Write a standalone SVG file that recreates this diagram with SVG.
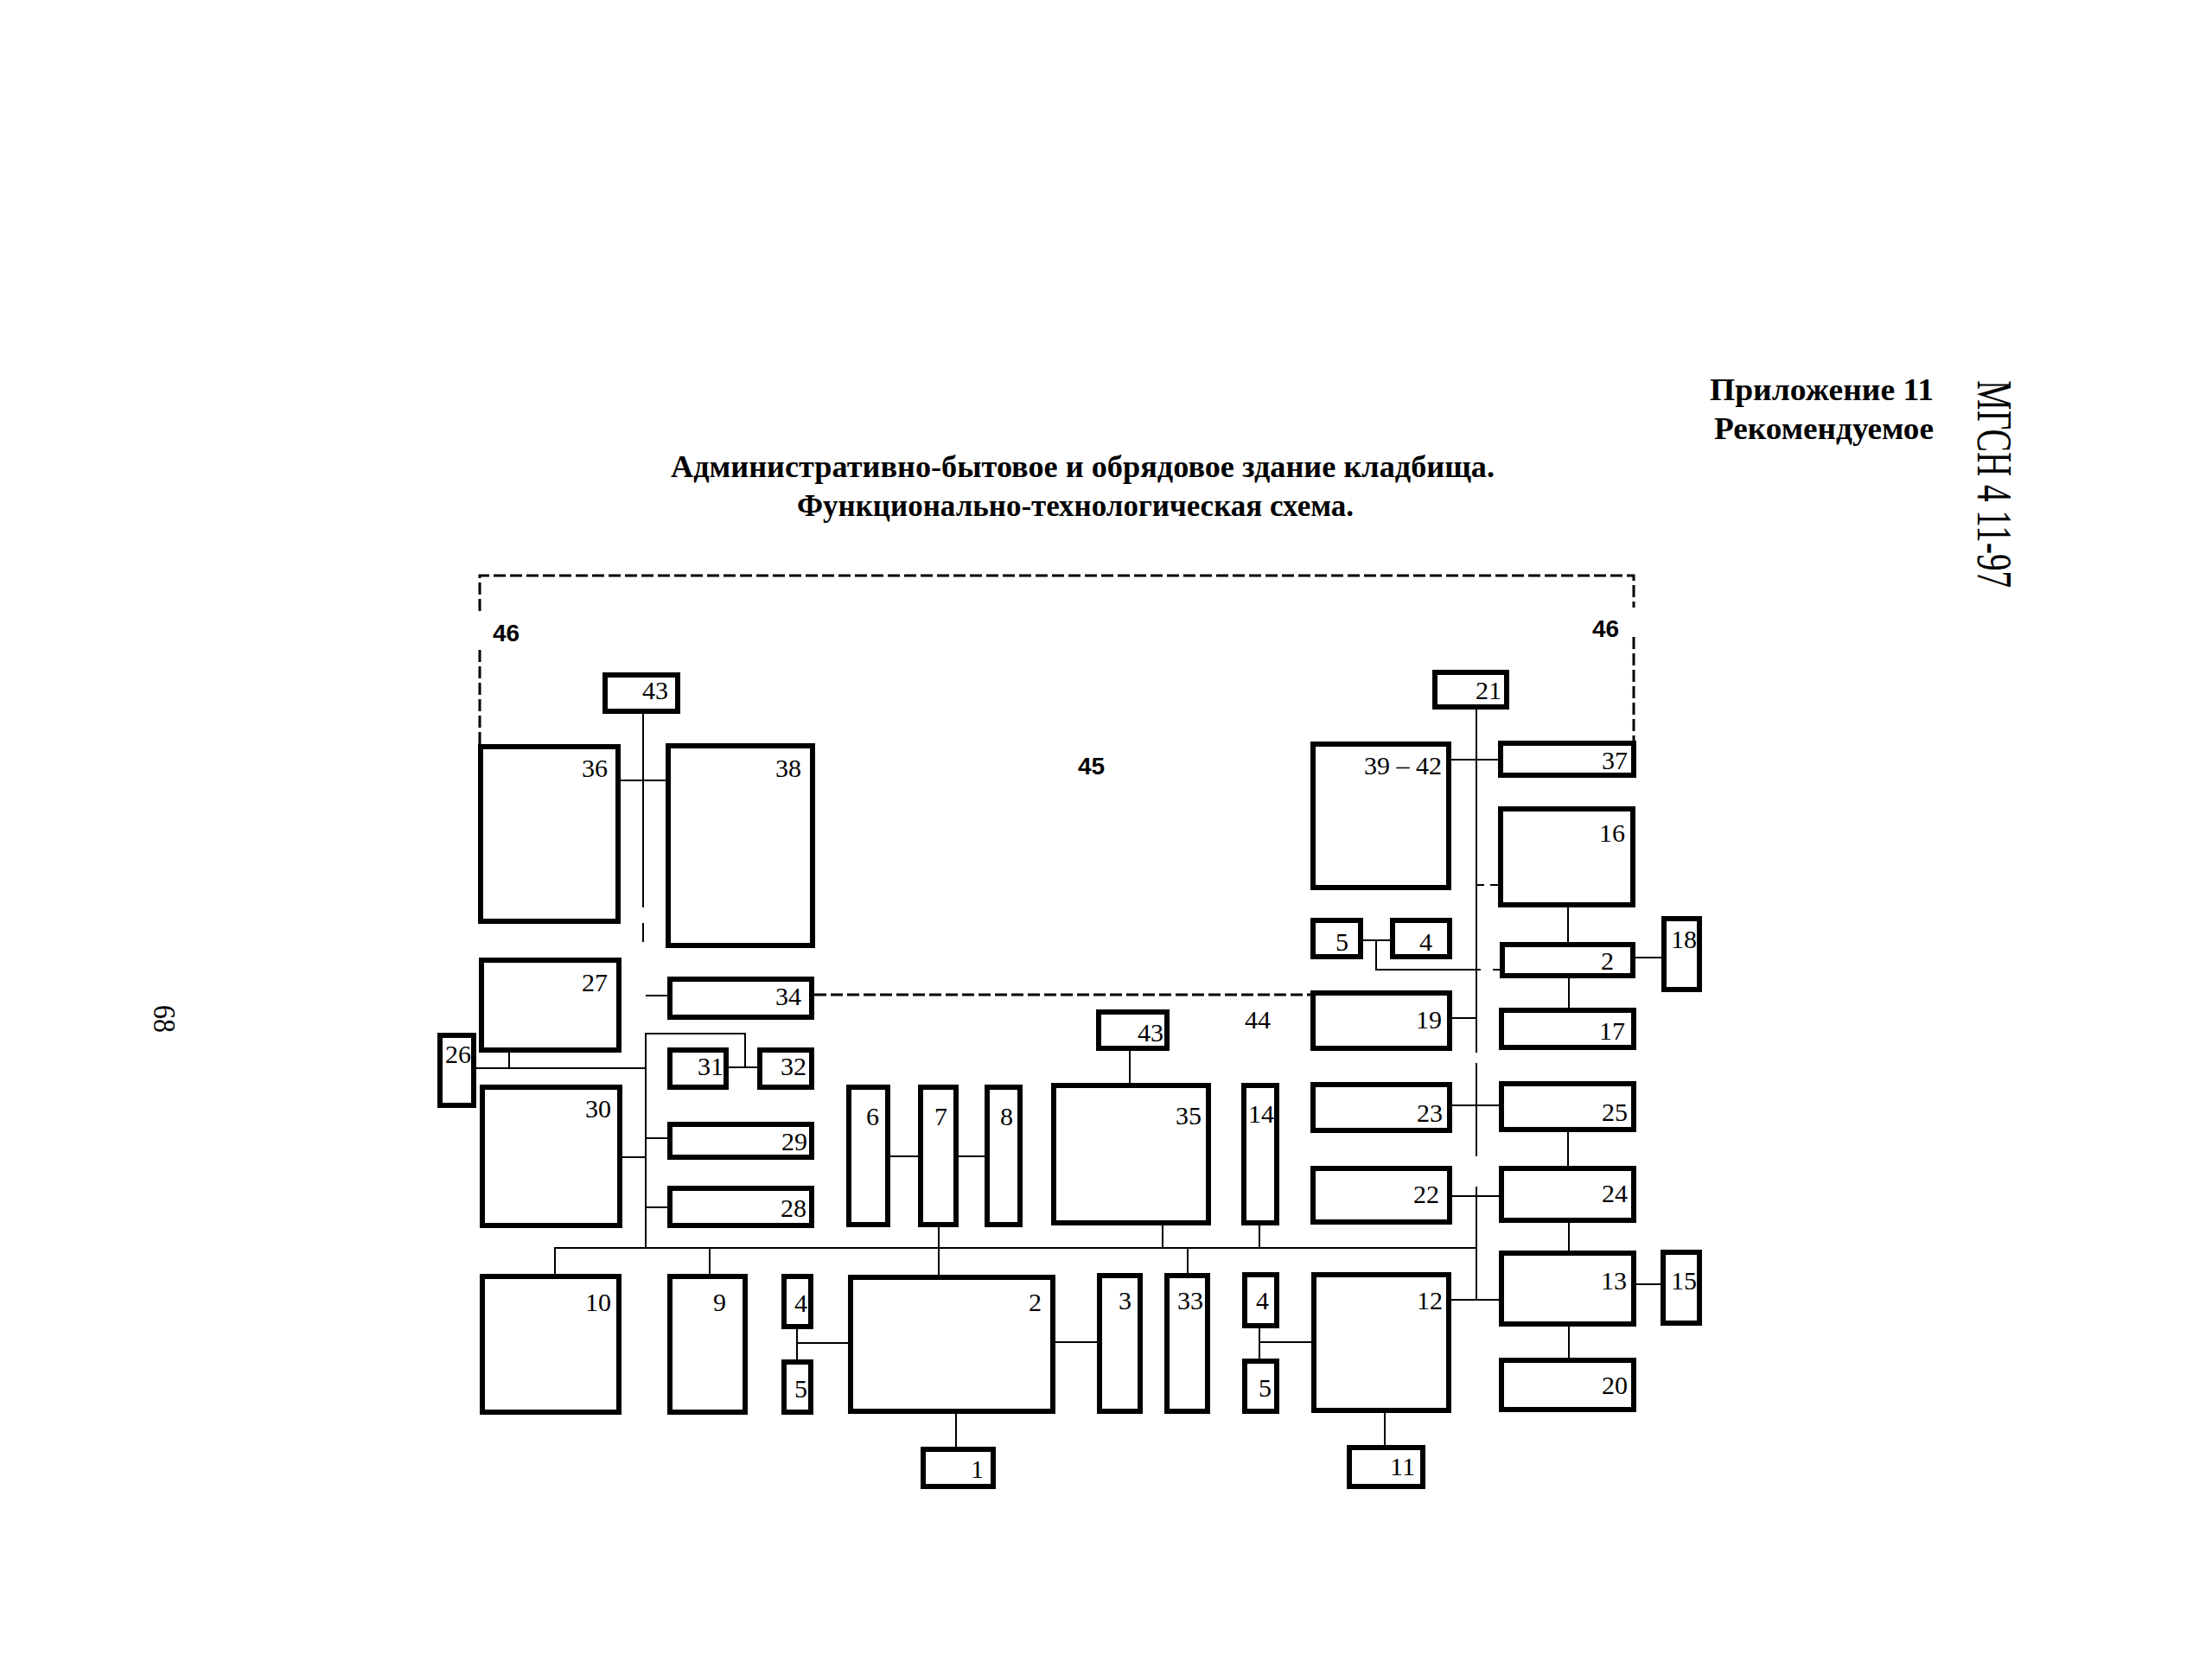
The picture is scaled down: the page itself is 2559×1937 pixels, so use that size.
<svg xmlns="http://www.w3.org/2000/svg" width="2559" height="1937" viewBox="0 0 2559 1937">
<style>
.box{fill:#fff;stroke:#000;stroke-width:6}
.ln{fill:none;stroke:#000;stroke-width:2}
.dash{fill:none;stroke:#000;stroke-width:3;stroke-dasharray:14 5}
.lbl{font-family:"Liberation Serif",serif;font-size:30px;text-anchor:end;fill:#000}
.big{font-family:"Liberation Sans",sans-serif;font-size:28px;font-weight:bold;fill:#000}
.hdr{font-family:"Liberation Serif",serif;font-weight:bold;fill:#000}
</style>
<rect x="0" y="0" width="2559" height="1937" fill="#fff"/>
<g id="header">
<text class="hdr" x="1978" y="463" font-size="36" textLength="259" lengthAdjust="spacingAndGlyphs">Приложение 11</text>
<text class="hdr" x="1983" y="508" font-size="36" textLength="254" lengthAdjust="spacingAndGlyphs">Рекомендуемое</text>
<text font-family="Liberation Serif, serif" font-size="58" transform="translate(2288,440) rotate(90)" textLength="240" lengthAdjust="spacingAndGlyphs">МГСН 4 11-97</text>
<text font-family="Liberation Serif, serif" font-size="36" transform="translate(178,1163) rotate(90)" textLength="32" lengthAdjust="spacingAndGlyphs">68</text>
<text class="hdr" x="776" y="552" font-size="35" textLength="953" lengthAdjust="spacingAndGlyphs">Административно-бытовое и обрядовое здание кладбища.</text>
<text class="hdr" x="922" y="597" font-size="35" textLength="644" lengthAdjust="spacingAndGlyphs">Функционально-технологическая схема.</text>
</g>
<g id="zones">
<path class="dash" d="M555 861 V750 M555 707 V666 H1890 V703 M1890 737 V857"/>
<path class="dash" d="M942 1151 H1516"/>
<text class="big" x="570" y="742">46</text>
<text class="big" x="1842" y="737">46</text>
<text class="big" x="1247" y="896">45</text>
<text class="lbl" x="1470" y="1190">44</text>
</g>
<g id="connectors">
<path class="ln" d="M744 826 V1050 M744 1068 V1090"/>
<path class="ln" d="M718 903 H770"/>
<path class="ln" d="M747 1152 H772"/>
<path class="ln" d="M747 1444 V1196 H862 V1235 M843 1235 H876"/>
<path class="ln" d="M551 1236 H747 M589 1218 V1236"/>
<path class="ln" d="M720 1339 H747 M747 1317 H772 M747 1397 H772"/>
<path class="ln" d="M642 1474 V1444 H1708"/>
<path class="ln" d="M821 1444 V1474"/>
<path class="ln" d="M1086 1420 V1475"/>
<path class="ln" d="M1030 1338 H1062 M1109 1338 H1139"/>
<path class="ln" d="M922 1538 V1573 M922 1554 H981"/>
<path class="ln" d="M1106 1636 V1674"/>
<path class="ln" d="M1221 1553 H1269"/>
<path class="ln" d="M1345 1418 V1444 M1374 1444 V1473 M1457 1418 V1444"/>
<path class="ln" d="M1307 1216 V1253"/>
<path class="ln" d="M1457 1537 V1572 M1457 1553 H1517"/>
<path class="ln" d="M1602 1635 V1672"/>
<path class="ln" d="M1708 821 V1218 M1708 1230 V1338 M1708 1373 V1504"/>
<path class="ln" d="M1679 1504 H1734"/>
<path class="ln" d="M1815 1535 V1571 M1815 1415 V1447 M1814 1310 V1349 M1815 1132 V1166 M1814 1050 V1090"/>
<path class="ln" d="M1893 1486 H1921 M1892 1108 H1922"/>
<path class="ln" d="M1679 879 H1733"/>
<path class="ln" d="M1708 1024 H1733" stroke-dasharray="9 7"/>
<path class="ln" d="M1577 1088 H1608 M1592 1088 V1122 H1713 M1727 1122 H1735"/>
<path class="ln" d="M1680 1178 H1708 M1680 1279 H1734 M1680 1384 H1734"/>
</g>
<g id="n43a"><rect class="box" x="700" y="781" width="84" height="42"/><text class="lbl" x="773" y="809">43</text></g>
<g id="n36"><rect class="box" x="556" y="864" width="159" height="202"/><text class="lbl" x="703" y="899">36</text></g>
<g id="n38"><rect class="box" x="773" y="863" width="167" height="231"/><text class="lbl" x="927" y="899">38</text></g>
<g id="n27"><rect class="box" x="557" y="1111" width="159" height="104"/><text class="lbl" x="703" y="1147">27</text></g>
<g id="n34"><rect class="box" x="775" y="1133" width="164" height="44"/><text class="lbl" x="927" y="1163">34</text></g>
<g id="n26"><rect class="box" x="509" y="1198" width="39" height="81"/><text class="lbl" x="545" y="1230" font-size="28">26</text></g>
<g id="n31"><rect class="box" x="775" y="1215" width="65" height="43"/><text class="lbl" x="837" y="1244">31</text></g>
<g id="n32"><rect class="box" x="879" y="1215" width="60" height="43"/><text class="lbl" x="933" y="1244">32</text></g>
<g id="n30"><rect class="box" x="558" y="1258" width="159" height="160"/><text class="lbl" x="707" y="1293">30</text></g>
<g id="n29"><rect class="box" x="775" y="1301" width="164" height="38"/><text class="lbl" x="934" y="1331">29</text></g>
<g id="n28"><rect class="box" x="775" y="1375" width="164" height="43"/><text class="lbl" x="933" y="1408">28</text></g>
<g id="n10"><rect class="box" x="558" y="1477" width="158" height="157"/><text class="lbl" x="707" y="1517">10</text></g>
<g id="n9"><rect class="box" x="775" y="1477" width="87" height="157"/><text class="lbl" x="840" y="1517">9</text></g>
<g id="n4a"><rect class="box" x="907" y="1477" width="31" height="58"/><text class="lbl" x="934" y="1518">4</text></g>
<g id="n5a"><rect class="box" x="907" y="1576" width="31" height="58"/><text class="lbl" x="934" y="1617">5</text></g>
<g id="n2a"><rect class="box" x="984" y="1478" width="234" height="155"/><text class="lbl" x="1205" y="1517">2</text></g>
<g id="n1"><rect class="box" x="1068" y="1677" width="81" height="43"/><text class="lbl" x="1138" y="1710">1</text></g>
<g id="n6"><rect class="box" x="982" y="1258" width="45" height="159"/><text class="lbl" x="1017" y="1302">6</text></g>
<g id="n7"><rect class="box" x="1065" y="1258" width="41" height="159"/><text class="lbl" x="1096" y="1302">7</text></g>
<g id="n8"><rect class="box" x="1142" y="1258" width="38" height="159"/><text class="lbl" x="1172" y="1302">8</text></g>
<g id="n43b"><rect class="box" x="1271" y="1171" width="79" height="42"/><text class="lbl" x="1346" y="1205">43</text></g>
<g id="n35"><rect class="box" x="1219" y="1256" width="179" height="159"/><text class="lbl" x="1390" y="1301">35</text></g>
<g id="n14"><rect class="box" x="1439" y="1256" width="38" height="159"/><text class="lbl" x="1474" y="1299">14</text></g>
<g id="n3"><rect class="box" x="1272" y="1476" width="47" height="157"/><text class="lbl" x="1309" y="1515">3</text></g>
<g id="n33"><rect class="box" x="1350" y="1476" width="47" height="157"/><text class="lbl" x="1392" y="1515">33</text></g>
<g id="n4b"><rect class="box" x="1440" y="1475" width="37" height="59"/><text class="lbl" x="1468" y="1515">4</text></g>
<g id="n5b"><rect class="box" x="1440" y="1575" width="37" height="58"/><text class="lbl" x="1471" y="1616">5</text></g>
<g id="n12"><rect class="box" x="1520" y="1475" width="156" height="157"/><text class="lbl" x="1669" y="1515">12</text></g>
<g id="n11"><rect class="box" x="1561" y="1675" width="85" height="45"/><text class="lbl" x="1637" y="1707">11</text></g>
<g id="n13"><rect class="box" x="1737" y="1450" width="153" height="82"/><text class="lbl" x="1882" y="1492">13</text></g>
<g id="n15"><rect class="box" x="1924" y="1449" width="42" height="82"/><text class="lbl" x="1963" y="1492">15</text></g>
<g id="n20"><rect class="box" x="1737" y="1574" width="153" height="57"/><text class="lbl" x="1883" y="1613">20</text></g>
<g id="n21"><rect class="box" x="1660" y="778" width="83" height="40"/><text class="lbl" x="1737" y="809">21</text></g>
<g id="n39-42"><rect class="box" x="1519" y="861" width="157" height="166"/><text class="lbl" x="1668" y="896">39 – 42</text></g>
<g id="n37"><rect class="box" x="1736" y="860" width="154" height="37"/><text class="lbl" x="1883" y="890">37</text></g>
<g id="n16"><rect class="box" x="1736" y="936" width="153" height="111"/><text class="lbl" x="1880" y="974">16</text></g>
<g id="n5c"><rect class="box" x="1519" y="1065" width="55" height="42"/><text class="lbl" x="1560" y="1100">5</text></g>
<g id="n4c"><rect class="box" x="1611" y="1065" width="66" height="42"/><text class="lbl" x="1657" y="1100">4</text></g>
<g id="n18"><rect class="box" x="1925" y="1063" width="41" height="82"/><text class="lbl" x="1963" y="1097">18</text></g>
<g id="n2b"><rect class="box" x="1738" y="1093" width="151" height="36"/><text class="lbl" x="1867" y="1122">2</text></g>
<g id="n17"><rect class="box" x="1737" y="1169" width="153" height="43"/><text class="lbl" x="1880" y="1203">17</text></g>
<g id="n19"><rect class="box" x="1519" y="1149" width="158" height="64"/><text class="lbl" x="1668" y="1190">19</text></g>
<g id="n23"><rect class="box" x="1519" y="1255" width="158" height="53"/><text class="lbl" x="1669" y="1298">23</text></g>
<g id="n25"><rect class="box" x="1737" y="1254" width="153" height="53"/><text class="lbl" x="1883" y="1297">25</text></g>
<g id="n22"><rect class="box" x="1519" y="1352" width="158" height="62"/><text class="lbl" x="1665" y="1392">22</text></g>
<g id="n24"><rect class="box" x="1737" y="1352" width="153" height="60"/><text class="lbl" x="1883" y="1391">24</text></g>
</svg>
